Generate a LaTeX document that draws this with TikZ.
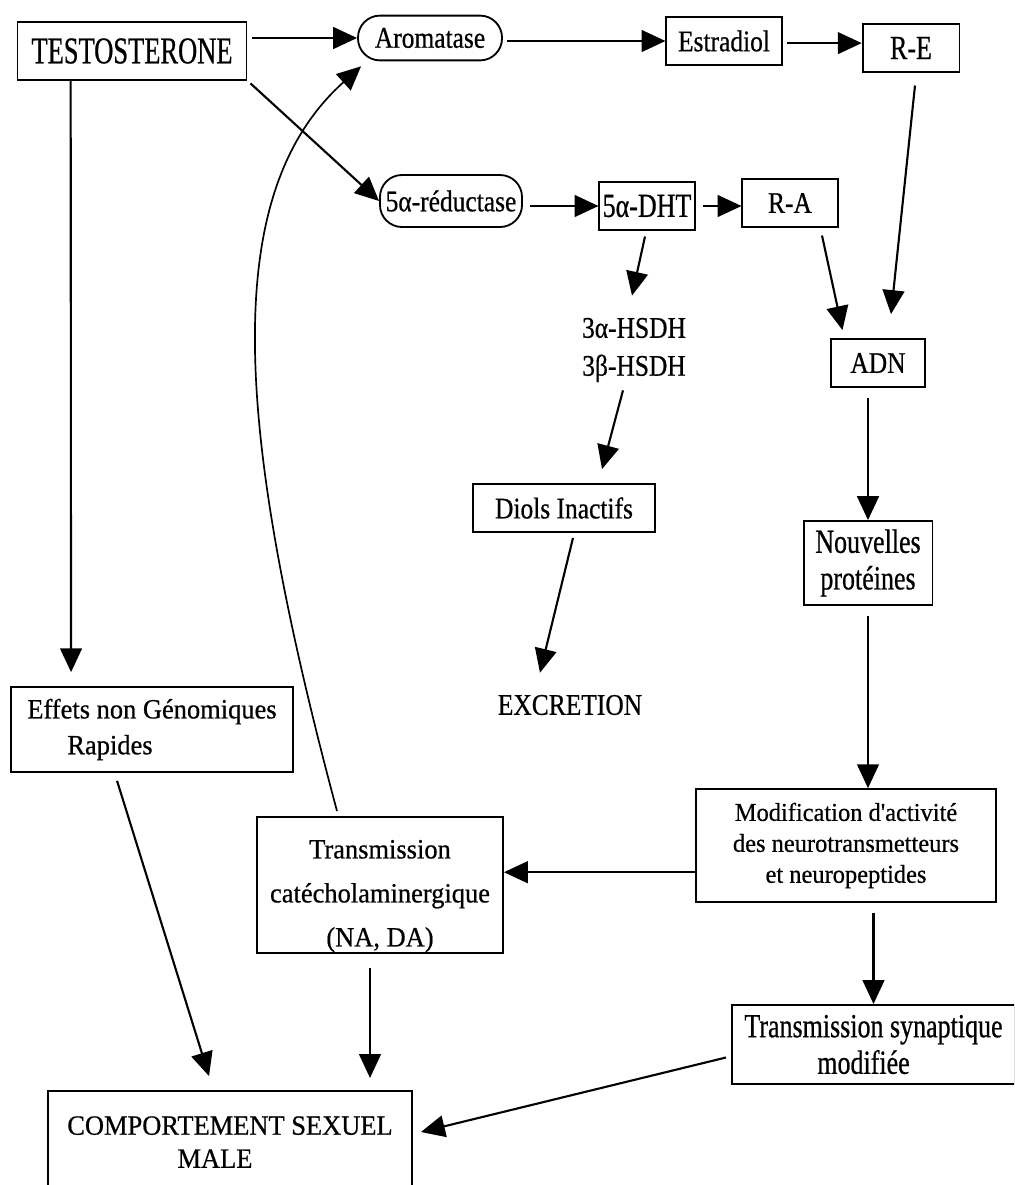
\documentclass[tikz,border=0pt]{standalone}
\usepackage{fontspec}
\setmainfont{Liberation Serif}
\newfontfamily\policeA[FakeStretch=0.95,FakeBold=0.6,Ligatures=TeXOff]{Liberation Serif}
\newfontfamily\policeB[FakeStretch=0.85,FakeBold=0.6]{Liberation Serif}
\newfontfamily\policeC[FakeStretch=0.77,FakeBold=0.6]{Liberation Serif}
\newfontfamily\policeD[FakeStretch=0.70,FakeBold=0.6]{Liberation Serif}
\usetikzlibrary{arrows.meta,calc}

\begin{document}
\begin{tikzpicture}[x=0.025cm,y=-0.025cm,
	>={Triangle[length=17pt,width=15.5pt]},
	plat/.style={font=\policeA\fontsize{19.8}{23.5}\selectfont},
	moyen/.style={font=\policeB\fontsize{21.3}{27}\selectfont},
	haut/.style={font=\policeC\fontsize{24}{26}\selectfont},
	boite/.style={draw,line width=1.3pt,inner sep=0pt,align=center},
	ovale/.style={boite,rounded corners=0.55cm},
	texte/.style={inner sep=0pt,align=center},
	fleche/.style={->,line width=1.5pt}]
	\useasboundingbox (0,0) rectangle (1014,1185);
	\clip (0,0) rectangle (1014,1185);
	%Ligne 1
	\node[boite,font=\policeD\fontsize{26.9}{30}\selectfont,minimum width=5.72cm,minimum height=1.43cm] (testo) at (132,51) {TESTOSTERONE};
	\node[ovale,moyen,minimum width=3.6cm,minimum height=1.12cm] (aroma) at (430,38) {Aromatase};
	\node[boite,moyen,minimum width=2.88cm,minimum height=1.18cm] (estra) at (724,41) {Estradiol};
	\node[boite,haut,minimum width=2.42cm,minimum height=1.18cm] (re) at (911,48) {R-E};
	%Ligne 2
	\node[ovale,moyen,minimum width=3.55cm,minimum height=1.3cm] (reduc) at (451,201) {5α-réductase};
	\node[boite,haut,minimum width=2.38cm,minimum height=1.18cm] (dht) at (647,206) {5α-DHT};
	\node[boite,moyen,minimum width=2.38cm,minimum height=1.18cm] (ra) at (790,203) {R-A};
	%Enzymes, ADN
	\node[texte,moyen] (hsdh) at (634,350) {3α-HSDH\\3β-HSDH};
	\node[boite,moyen,minimum width=2.33cm,minimum height=1.2cm] (adn) at (878,363) {ADN};
	\node[boite,moyen,minimum width=4.55cm,minimum height=1.2cm] (diols) at (564,508) {Diols Inactifs};
	\node[boite,haut,minimum width=3.22cm,minimum height=2.1cm] (nouv) at (868,563) {Nouvelles\\protéines};
	\node[texte,moyen] (excr) at (570,705) {EXCRETION};
	%Partie basse
	\node[boite,plat,minimum width=7.05cm,minimum height=2.12cm,align=left] (effets) at (152,729.5) {Effets non Génomiques\\[2pt]\hspace*{1cm}Rapides};
	\node[boite,plat,minimum width=6.15cm,minimum height=3.4cm] (cate) at (380,885) {\rule{0pt}{29pt}Transmission\\[7.8pt]catécholaminergique\\[7.8pt](NA, DA)};
	\node[boite,font=\policeA\fontsize{18.3}{22}\selectfont,minimum width=7.5cm,minimum height=2.82cm] (modif) at (846,845.5) {Modification d'activité\\des neurotransmetteurs\\et neuropeptides};
	\node[boite,haut,minimum width=7.08cm,minimum height=1.98cm] (synap) at (873.5,1044.5) {Transmission synaptique\\modifiée\hspace*{0.5cm}};
	\node[boite,plat,minimum width=9.1cm,minimum height=2.55cm] (compo) at (230,1142) {COMPORTEMENT SEXUEL\\MALE\hspace*{0.75cm}};
	%Fleches du haut
	\draw[fleche,shorten <=3pt] (testo.east |- aroma.west) -- (aroma.west);
	\draw[fleche,shorten <=3pt] (aroma.east |- estra.west) -- (estra.west);
	\draw[fleche,shorten <=3pt] ([yshift=-1.5pt]estra.east) -- ([yshift=-1.5pt]estra.east -| re.west);
	\draw[fleche,shorten <=3pt] (testo.south east) -- (reduc.west);
	\draw[fleche,shorten <=5pt] (reduc.east |- dht.west) -- (dht.west);
	\draw[fleche,shorten <=5pt] (dht.east) -- (dht.east -| ra.west);
	%Vers ADN
	\draw[fleche] ($(re.south)+(4,13)$) -- ($(adn.north)+(13,-24)$);
	\draw[fleche] ($(ra.south)+(32,8)$) -- ($(adn.north west)+(12,-8)$);
	%Degradation
	\draw[fleche] ($(dht.south)+(-2,6)$) -- ($(hsdh.north)+(-2,-22)$);
	\draw[fleche] ($(hsdh.south)+(-11,8)$) -- ($(diols.north)+(38,-14)$);
	\draw[fleche] ($(diols.south)+(9,5)$) -- ($(excr.north)+(-30,-22)$);
	%Colonne de droite
	\draw[fleche,shorten <=7pt] (nouv.north |- adn.south) -- (nouv.north);
	\draw[fleche,shorten <=7pt] (nouv.south) -- (nouv.south |- modif.north);
	\draw[fleche] ([yshift=-19pt]modif.west) -- ([yshift=-19pt]modif.west -| cate.east);
	\draw[fleche,shorten <=7pt] (synap.north |- modif.south) -- (synap.north);
	%Vers le comportement
	\draw[fleche] ($(testo.south west)+(54,0)$) -- ($(effets.north west)+(61,-14)$);
	\draw[fleche] ($(effets.south west)+(107,8)$) -- ($(compo.north west)+(162,-14)$);
	\draw[fleche] ($(cate.south)+(-10,14)$) -- ($(cate.south)+(-10,124)$);
	\draw[fleche] ($(synap.west)+(-5,13)$) -- ($(compo.east)+(8,-10)$);
	%Retour vers l'aromatase
	\draw[fleche,line width=1.2pt] ($(cate.north)+(-43,-5)$) .. controls (235,430) and (218,195) .. ($(aroma.south west)+(4,5)$);
\end{tikzpicture}
\end{document}
